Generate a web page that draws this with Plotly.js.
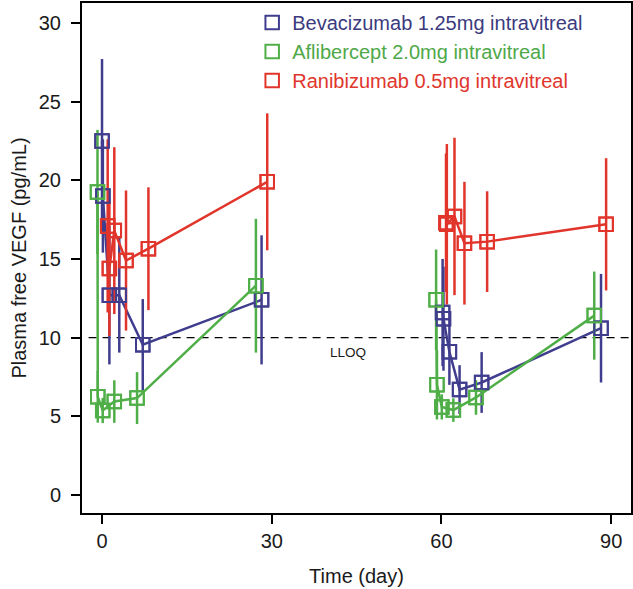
<!DOCTYPE html>
<html>
<head>
<meta charset="utf-8">
<script src="https://cdn.plot.ly/plotly-3.0.1.min.js"></script>
<style>html,body{margin:0;padding:0;background:#fff;}#chart{width:633px;height:589px;}</style>
</head>
<body>
<div id="chart"></div>
<script>
// Series names
const seriesNames = ["Bevacizumab 1.25mg intravitreal", "Aflibercept 2.0mg intravitreal", "Ranibizumab 0.5mg intravitreal"];
const seriesColors = ["#403d8e", "#4fae47", "#e1342b"];
const legendTextColors = ["#3b3a7e", "#4fa84a", "#e0362d"];

// Bevacizumab (null separates the two dosing periods)
const bevaDay = [0, 0.15, 1.3, 3.05, 7.2, 28.2, null, 60.2, 60.35, 61.4, 63.2, 67.1, 88.2];
const bevaVEGF = [22.5, 19.0, 12.7, 12.7, 9.55, 12.4, null, 11.6, 11.2, 9.1, 6.7, 7.15, 10.6];
const bevaErr = [5.2, 3.6, 4.4, 3.65, 2.9, 4.1, null, 3.4, 3.3, 2.1, 1.55, 1.93, 3.45];

// Aflibercept
const afliDay = [-0.8, -0.75, 0.12, 2.17, 6.19, 27.2, null, 59.05, 59.2, 60.06, 62.1, 66.1, 87.0];
const afliVEGF = [19.25, 6.24, 5.37, 5.94, 6.16, 13.3, null, 12.4, 7.0, 5.6, 5.4, 6.2, 11.4];
const afliErr = [3.95, 1.64, 0.8, 1.35, 1.65, 4.25, null, 3.2, 2.2, 0.8, 0.75, 1.1, 2.8];

// Ranibizumab
const raniDay = [1.0, 1.3, 2.17, 4.24, 8.2, 29.2, null, 60.8, 60.95, 62.3, 64.06, 68.07, 89.1];
const raniVEGF = [17.1, 14.4, 16.8, 14.9, 15.65, 19.9, null, 17.3, 17.2, 17.7, 16.0, 16.1, 17.2];
const raniErr = [5.5, 4.3, 5.3, 4.45, 3.9, 4.35, null, 4.4, 5.1, 5.0, 3.9, 3.2, 4.2];

// Axis ticks and reference line
const xTicks = [0, 30, 60, 90];
const yTicks = [0, 5, 10, 15, 20, 25, 30];
const lloqValue = 10;
const lloqLabel = "LLOQ";

const font = "'Liberation Sans', Arial, Helvetica, sans-serif";
const xs = [bevaDay, afliDay, raniDay];
const ys = [bevaVEGF, afliVEGF, raniVEGF];
const es = [bevaErr, afliErr, raniErr];

const traces = [];
for (let i = 0; i < 3; i++) {
  traces.push({
    type: "scatter", mode: "lines+markers",
    x: xs[i], y: ys[i], connectgaps: false,
    line: {color: seriesColors[i], width: 2.5},
    marker: {symbol: "square-open", size: 13.5, color: seriesColors[i], line: {width: 2, color: seriesColors[i]}},
    error_y: {type: "data", array: es[i], visible: true, color: seriesColors[i], thickness: 2.5, width: 0},
    showlegend: false, hoverinfo: "skip"
  });
}
for (let i = 0; i < 3; i++) {
  traces.push({
    type: "scatter", mode: "markers",
    x: xs[i], y: ys[i],
    name: '<span style="color:' + legendTextColors[i] + '">' + seriesNames[i] + '</span>',
    marker: {symbol: "square-open", size: 13.5, color: seriesColors[i], line: {width: 2, color: seriesColors[i]}},
    showlegend: true, legendgroup: "g" + i, hoverinfo: "skip"
  });
}

const layout = {
  width: 633, height: 589,
  margin: {l: 82, r: 2, t: 3, b: 76},
  paper_bgcolor: "#ffffff", plot_bgcolor: "#ffffff",
  font: {family: font, size: 20, color: "#1a1a1a"},
  showlegend: true,
  legend: {x: 0.31, xanchor: "left", y: 1.0, yanchor: "top", bgcolor: "rgba(0,0,0,0)",
           font: {family: font, size: 20}, tracegroupgap: 0, itemwidth: 30},
  xaxis: {
    range: [-3.54, 93.5], tickvals: xTicks, ticktext: xTicks.map(String),
    ticks: "outside", ticklen: 9, tickwidth: 2, tickcolor: "#000",
    showline: true, linecolor: "#000", linewidth: 2, mirror: true,
    showgrid: false, zeroline: false,
    tickfont: {family: font, size: 20, color: "#1a1a1a"},
    title: {text: "Time (day)", font: {family: font, size: 20, color: "#1a1a1a"}, standoff: 18}
  },
  yaxis: {
    range: [-1.14, 31.26], tickvals: yTicks, ticktext: yTicks.map(String),
    ticks: "outside", ticklen: 9, tickwidth: 2, tickcolor: "#000",
    showline: true, linecolor: "#000", linewidth: 2, mirror: true,
    showgrid: false, zeroline: false, ticklabelstandoff: 6,
    tickfont: {family: font, size: 20, color: "#1a1a1a"},
    title: {text: "Plasma free VEGF (pg/mL)", font: {family: font, size: 20, color: "#1a1a1a"}, standoff: 7}
  },
  shapes: [{type: "line", xref: "paper", x0: 0.012, x1: 1, yref: "y", y0: lloqValue, y1: lloqValue,
            line: {color: "#000", width: 1.2, dash: "8px,6px"}, layer: "below"}],
  annotations: [{x: 43.5, y: lloqValue, xref: "x", yref: "y", text: lloqLabel, showarrow: false,
                 yanchor: "top", yshift: -5, font: {family: font, size: 13.5, color: "#1a1a1a"}}]
};

Plotly.newPlot("chart", traces, layout, {displayModeBar: false, staticPlot: true});
</script>
</body>
</html>
